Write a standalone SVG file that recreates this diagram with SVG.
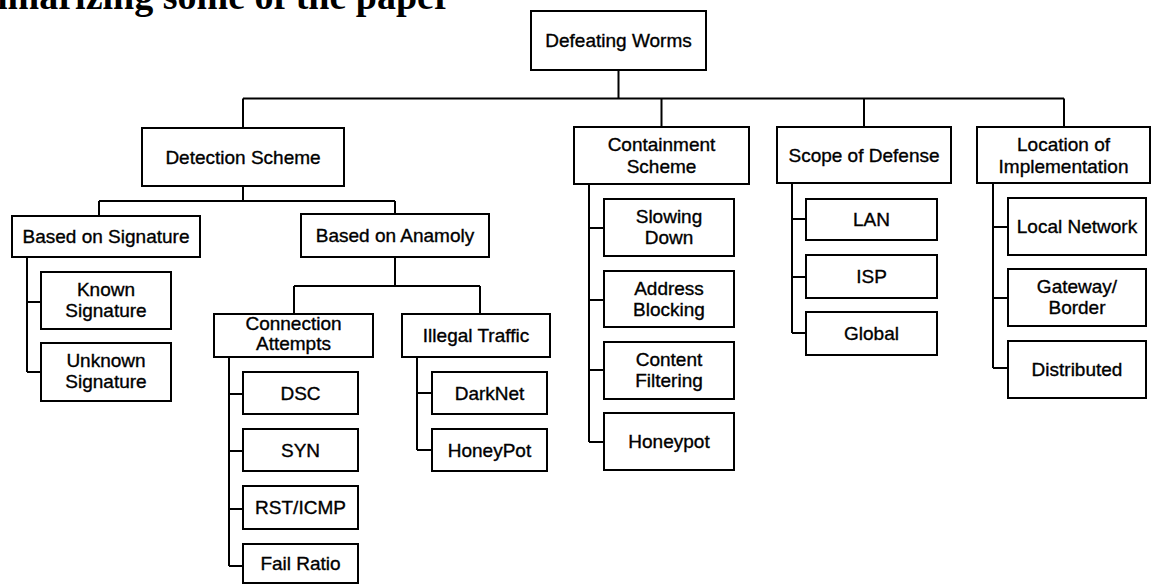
<svg xmlns="http://www.w3.org/2000/svg" width="1151" height="584" viewBox="0 0 1151 584">
  <style>
    .box { fill: #fff; stroke: #000; stroke-width: 2; }
    .lbl { font-family: "Liberation Sans", Arial, sans-serif; font-size: 19px; fill: #000; stroke: #000; stroke-width: 0.35; text-anchor: middle; }
    .wire { fill: none; stroke: #000; stroke-width: 2; }
    .head { font-family: "Liberation Serif", "Times New Roman", serif; font-size: 38px; font-weight: bold; fill: #000; }
  </style>
  <rect width="1151" height="584" fill="#fff"/>

  <!-- heading line, clipped by the top edge -->
  <text class="head" x="-60" y="9">summarizing some of the paper</text>

  <!-- connectors -->
  <g id="connectors" class="wire">
    <!-- root to first level -->
    <path d="M618.5 70 V98.5 M243 98.5 H1064 M243 98.5 V128 M661.5 98.5 V127 M864 98.5 V127 M1064 98.5 V127"/>
    <!-- detection scheme -->
    <path d="M243 186 V201 M99 201 H395 M99 201 V216 M395 201 V214"/>
    <!-- signature children -->
    <path d="M27 257 V372 M27 302 H41 M27 372 H41"/>
    <!-- anomaly children -->
    <path d="M395 257 V286 M294 286 H480 M294 286 V314 M480 286 V314"/>
    <!-- connection attempts children -->
    <path d="M229 357 V566 M229 394 H243 M229 451 H243 M229 509 H243 M229 566 H243"/>
    <!-- illegal traffic children -->
    <path d="M417 357 V450 M417 393 H432 M417 450 H432"/>
    <!-- containment children -->
    <path d="M589 184 V442 M589 228 H604 M589 300 H604 M589 370 H604 M589 442 H604"/>
    <!-- scope children -->
    <path d="M792 183 V333 M792 219 H806 M792 277 H806 M792 333 H806"/>
    <!-- location children -->
    <path d="M993 183 V368 M993 227 H1008 M993 298 H1008 M993 368 H1008"/>
  </g>

  <g id="defeating-worms">
    <rect class="box" x="531" y="11" width="175" height="59"/>
    <text class="lbl" x="618.5" y="47">Defeating Worms</text>
  </g>

  <g id="detection-scheme">
    <rect class="box" x="142" y="128" width="202" height="58"/>
    <text class="lbl" x="243" y="163.5">Detection Scheme</text>
  </g>
  <g id="containment-scheme">
    <rect class="box" x="574" y="127" width="175" height="57"/>
    <text class="lbl" x="661.5" y="151">Containment</text>
    <text class="lbl" x="661.5" y="173">Scheme</text>
  </g>
  <g id="scope-of-defense">
    <rect class="box" x="777" y="127" width="174" height="56"/>
    <text class="lbl" x="864" y="161.5">Scope of Defense</text>
  </g>
  <g id="location-of-implementation">
    <rect class="box" x="977" y="127" width="173" height="56"/>
    <text class="lbl" x="1063.5" y="151">Location of</text>
    <text class="lbl" x="1063.5" y="173">Implementation</text>
  </g>

  <g id="based-on-signature">
    <rect class="box" x="12" y="216" width="188" height="41"/>
    <text class="lbl" x="106" y="243">Based on Signature</text>
  </g>
  <g id="based-on-anamoly">
    <rect class="box" x="301" y="214" width="188" height="43"/>
    <text class="lbl" x="395" y="242">Based on Anamoly</text>
  </g>

  <g id="known-signature">
    <rect class="box" x="41" y="272" width="130" height="57"/>
    <text class="lbl" x="106" y="296">Known</text>
    <text class="lbl" x="106" y="317">Signature</text>
  </g>
  <g id="unknown-signature">
    <rect class="box" x="41" y="343" width="130" height="58"/>
    <text class="lbl" x="106" y="367">Unknown</text>
    <text class="lbl" x="106" y="388">Signature</text>
  </g>

  <g id="connection-attempts">
    <rect class="box" x="214" y="314" width="159" height="43"/>
    <text class="lbl" x="293.5" y="330">Connection</text>
    <text class="lbl" x="293.5" y="350">Attempts</text>
  </g>
  <g id="illegal-traffic">
    <rect class="box" x="402" y="314" width="148" height="43"/>
    <text class="lbl" x="476" y="342">Illegal Traffic</text>
  </g>

  <g id="dsc">
    <rect class="box" x="243" y="372" width="115" height="42"/>
    <text class="lbl" x="300.5" y="399.5">DSC</text>
  </g>
  <g id="syn">
    <rect class="box" x="243" y="429" width="115" height="42"/>
    <text class="lbl" x="300.5" y="456.5">SYN</text>
  </g>
  <g id="rst-icmp">
    <rect class="box" x="243" y="486" width="115" height="43"/>
    <text class="lbl" x="300.5" y="514">RST/ICMP</text>
  </g>
  <g id="fail-ratio">
    <rect class="box" x="243" y="544" width="115" height="39"/>
    <text class="lbl" x="300.5" y="570">Fail Ratio</text>
  </g>

  <g id="darknet">
    <rect class="box" x="432" y="372" width="115" height="42"/>
    <text class="lbl" x="489.5" y="399.5">DarkNet</text>
  </g>
  <g id="honeypot-traffic">
    <rect class="box" x="432" y="429" width="115" height="42"/>
    <text class="lbl" x="489.5" y="456.5">HoneyPot</text>
  </g>

  <g id="slowing-down">
    <rect class="box" x="604" y="199" width="130" height="57"/>
    <text class="lbl" x="669" y="223">Slowing</text>
    <text class="lbl" x="669" y="244">Down</text>
  </g>
  <g id="address-blocking">
    <rect class="box" x="604" y="271" width="130" height="56"/>
    <text class="lbl" x="669" y="295">Address</text>
    <text class="lbl" x="669" y="316">Blocking</text>
  </g>
  <g id="content-filtering">
    <rect class="box" x="604" y="342" width="130" height="57"/>
    <text class="lbl" x="669" y="366">Content</text>
    <text class="lbl" x="669" y="387">Filtering</text>
  </g>
  <g id="honeypot-containment">
    <rect class="box" x="604" y="413" width="130" height="57"/>
    <text class="lbl" x="669" y="448">Honeypot</text>
  </g>

  <g id="lan">
    <rect class="box" x="806" y="199" width="131" height="41"/>
    <text class="lbl" x="871.5" y="226">LAN</text>
  </g>
  <g id="isp">
    <rect class="box" x="806" y="255" width="131" height="43"/>
    <text class="lbl" x="871.5" y="283">ISP</text>
  </g>
  <g id="global">
    <rect class="box" x="806" y="312" width="131" height="43"/>
    <text class="lbl" x="871.5" y="340">Global</text>
  </g>

  <g id="local-network">
    <rect class="box" x="1008" y="198" width="138" height="57"/>
    <text class="lbl" x="1077" y="233">Local Network</text>
  </g>
  <g id="gateway-border">
    <rect class="box" x="1008" y="269" width="138" height="57"/>
    <text class="lbl" x="1077" y="293">Gateway/</text>
    <text class="lbl" x="1077" y="314">Border</text>
  </g>
  <g id="distributed">
    <rect class="box" x="1008" y="341" width="138" height="57"/>
    <text class="lbl" x="1077" y="376">Distributed</text>
  </g>
</svg>
